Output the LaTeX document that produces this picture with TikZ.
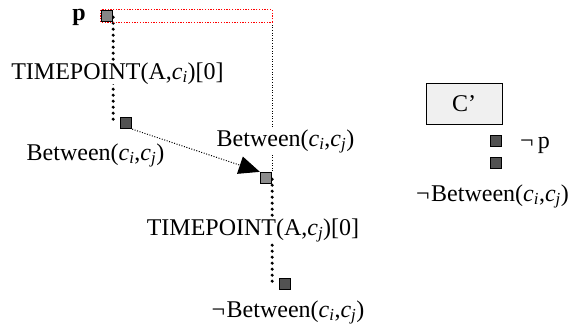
\documentclass[tikz,border=0pt]{standalone}
\usepackage{fontspec}
\setmainfont{Liberation Serif}
\usetikzlibrary{arrows.meta,backgrounds}
\newcommand{\cij}[2]{\textit{c}\textsubscript{\textit{#1}},\textit{c}\textsubscript{\textit{#2}}}
\begin{document}
\begin{tikzpicture}[x=1pt,y=-1pt,
  every node/.style={font=\fontsize{24}{27}\selectfont},
  lbl/.style={inner sep=0pt,anchor=base,fill=white},
  sqr/.style={draw=black,line width=1.3pt,minimum size=11pt,inner sep=0pt,fill=#1},
  bigdots/.style={line width=3.4pt,line cap=round,dash pattern=on 0pt off 6pt},
  thindots/.style={line width=1pt,dash pattern=on 1pt off 1.6pt},
  reddots/.style={red,line width=1.2pt,dash pattern=on 1.3pt off 1.4pt},
  cbox/.style={draw=black,line width=1pt,fill=gray!12,minimum width=76pt,minimum height=41pt,inner sep=0pt}]
\useasboundingbox (0,0) rectangle (581,327);
% squares
\node[sqr=gray!95!white] (psq) at (107,16) {};
\node[sqr=black!68] (sq2) at (126,123) {};
\node[sqr=gray!90!white] (sq4) at (266,178) {};
\node[sqr=black!68] (sq3) at (285,284) {};
\node[sqr=black!68] (r1) at (496,141) {};
\node[sqr=black!68] (r2) at (496,163) {};
% labels
\node[lbl,fill=none,font=\fontsize{24}{27}\selectfont\bfseries] (p) at (79,20) {p};
\node[lbl] (tp1) at (117.5,79) {TIMEPOINT(A,\textit{c}\textsubscript{\textit{i}})[0]};
\node[lbl] (b1) at (95.5,160) {Between(\cij{i}{j})};
\node[lbl] (b2) at (285.5,146) {Between(\cij{i}{j})};
\node[lbl] (tp2) at (253,235) {TIMEPOINT(A,\textit{c}\textsubscript{\textit{j}})[0]};
\node[lbl] (nb1) at (288,317) {¬\kern1.5pt Between(\cij{i}{j})};
\node[cbox] (cb) at (464,103.5) {C’};
\node[lbl] (np) at (535,148) {¬\kern4pt p};
\node[lbl] (nb2) at (492.5,201) {¬\kern1.5pt Between(\cij{i}{j})};
\coordinate (rc) at (sq4.north east |- psq.south);
\begin{scope}[on background layer]
\draw[bigdots] ([yshift=5pt]psq.south east) -- ([yshift=-4pt]psq.south east |- sq2.north);
\draw[bigdots] ([yshift=5pt]sq4.south east) -- ([yshift=-4pt]sq4.south east |- sq3.north);
\draw[thindots] (rc) -- (sq4.north east);
\end{scope}
\draw[reddots] (psq.north west) rectangle (rc);
\draw[thindots,-{Triangle[length=21pt,width=18pt]}] (sq2.south east) -- (sq4.north west);
\end{tikzpicture}
\end{document}
